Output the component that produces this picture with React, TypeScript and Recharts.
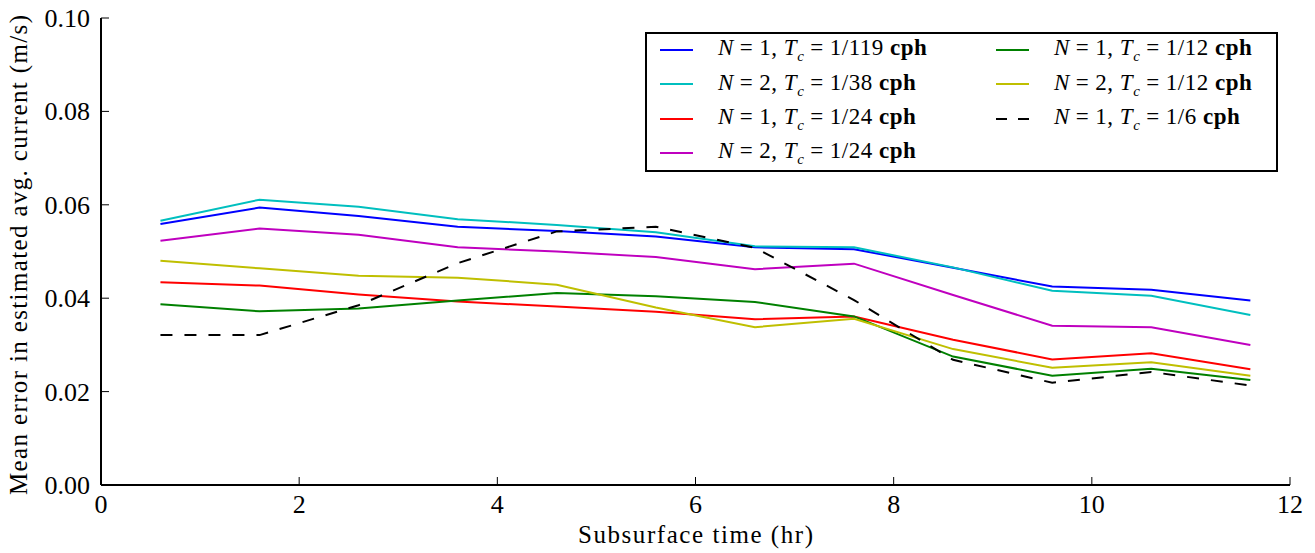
import React from "react";
import { Legend, Line, LineChart, XAxis, YAxis } from "recharts";

// subsurface time (hr) at the centre of each bin
const hours = [0.6, 1.6, 2.6, 3.6, 4.6, 5.6, 6.6, 7.6, 8.6, 9.6, 10.6, 11.6];

// mean error (m/s) per configuration
const n1Tc119 = [0.0559, 0.0594, 0.0576, 0.0553, 0.0544, 0.0532, 0.0509, 0.0505, 0.0465, 0.0425, 0.0418, 0.0395];
const n2Tc38 = [0.0566, 0.0611, 0.0596, 0.0569, 0.0557, 0.0541, 0.0511, 0.0509, 0.0466, 0.0416, 0.0405, 0.0364];
const n1Tc24 = [0.0434, 0.0427, 0.0408, 0.0393, 0.0382, 0.0371, 0.0355, 0.0361, 0.0311, 0.0269, 0.0282, 0.0248];
const n2Tc24 = [0.0523, 0.0549, 0.0536, 0.0509, 0.05, 0.0488, 0.0462, 0.0474, 0.0407, 0.0341, 0.0338, 0.03];
const n1Tc12 = [0.0387, 0.0372, 0.0378, 0.0395, 0.0411, 0.0404, 0.0392, 0.0361, 0.0275, 0.0234, 0.0249, 0.0225];
const n2Tc12 = [0.048, 0.0464, 0.0448, 0.0444, 0.0429, 0.038, 0.0338, 0.0356, 0.0291, 0.0251, 0.0263, 0.0234];
const n1Tc6 = [0.0321, 0.0321, 0.0385, 0.0475, 0.0543, 0.0553, 0.0508, 0.0396, 0.0268, 0.0219, 0.0242, 0.0213];

const xTicks = [0, 2, 4, 6, 8, 10, 12];
const yTicks = [0, 0.02, 0.04, 0.06, 0.08, 0.1];

const series = [
  { key: "n1Tc119", values: n1Tc119, n: "1", tc: "1/119", color: "#0000ff", dash: undefined },
  { key: "n2Tc38", values: n2Tc38, n: "2", tc: "1/38", color: "#00bfbf", dash: undefined },
  { key: "n1Tc24", values: n1Tc24, n: "1", tc: "1/24", color: "#ff0000", dash: undefined },
  { key: "n2Tc24", values: n2Tc24, n: "2", tc: "1/24", color: "#bf00bf", dash: undefined },
  { key: "n1Tc12", values: n1Tc12, n: "1", tc: "1/12", color: "#008000", dash: undefined },
  { key: "n2Tc12", values: n2Tc12, n: "2", tc: "1/12", color: "#bfbf00", dash: undefined },
  { key: "n1Tc6", values: n1Tc6, n: "1", tc: "1/6", color: "#000000", dash: "12 12" },
];

const rows = hours.map((hour, i) => {
  const row: Record<string, number> = { hour };
  series.forEach((s) => {
    row[s.key] = s.values[i];
  });
  return row;
});

const font = "'Liberation Serif', 'Times New Roman', serif";
const TICK = 8;

const BottomTick = ({ x, y, payload }: any) => (
  <g>
    <line x1={x} y1={y} x2={x} y2={y - TICK} stroke="#000" strokeWidth={1} />
    <text x={x} y={y + 28} textAnchor="middle" style={{ fontFamily: font, fontSize: 26 }} fill="#000">
      {payload.value}
    </text>
  </g>
);

const TopTick = ({ x, y }: any) => (
  <line x1={x} y1={y} x2={x} y2={y + TICK} stroke="#000" strokeWidth={1} />
);

const LeftTick = ({ x, y, payload }: any) => (
  <g>
    <line x1={x} y1={y} x2={x + TICK} y2={y} stroke="#000" strokeWidth={1} />
    <text x={x - 11} y={y + 9} textAnchor="end" style={{ fontFamily: font, fontSize: 26 }} fill="#000">
      {Number(payload.value).toFixed(2)}
    </text>
  </g>
);

const RightTick = ({ x, y }: any) => (
  <line x1={x} y1={y} x2={x - TICK} y2={y} stroke="#000" strokeWidth={1} />
);

const eq = { margin: "0 6px" };

const LegendBox = () => (
  <div
    style={{
      width: 633,
      height: 140,
      border: "2px solid #000",
      boxSizing: "border-box",
      background: "#fff",
      position: "relative",
      fontFamily: font,
      fontSize: 23,
      letterSpacing: 0.5,
      color: "#000",
    }}
  >
    {series.map((s, i) => {
      const col = i < 4 ? 0 : 1;
      const row = i < 4 ? i : i - 4;
      const left = col === 0 ? 13 : 349;
      const centre = 16 + row * 34.3;
      return (
        <div
          key={s.key}
          style={{
            position: "absolute",
            left,
            top: centre - 15,
            height: 30,
            display: "flex",
            alignItems: "center",
            whiteSpace: "nowrap",
          }}
        >
          <svg width={33} height={4} style={{ marginRight: 25 }}>
            <line x1={0} y1={2} x2={33} y2={2} stroke={s.color} strokeWidth={2} strokeDasharray={s.dash ? "11 11" : undefined} />
          </svg>
          <span>
            <i>N</i>
            <span style={eq}>=</span>
            {s.n}, <i>T</i>
            <sub style={{ fontSize: 15 }}>
              <i>c</i>
            </sub>
            <span style={eq}>=</span>
            {s.tc} <b>cph</b>
          </span>
        </div>
      );
    })}
  </div>
);

export default function App() {
  return (
    <div style={{ position: "absolute", left: 0, top: 0, width: 1315, height: 553, background: "#fff" }}>
      <LineChart width={1315} height={553} data={rows} margin={{ top: 18, right: 25, bottom: 0, left: 0 }}>
        <XAxis
          dataKey="hour"
          type="number"
          domain={[0, 12]}
          ticks={xTicks}
          height={68}
          tickSize={0}
          tickMargin={0}
          axisLine={{ stroke: "#000", strokeWidth: 2 }}
          tick={<BottomTick />}
          label={{
            content: () => (
              <text
                x={695.5}
                y={543}
                textAnchor="middle"
                textLength={235}
                lengthAdjust="spacing"
                style={{ fontFamily: font, fontSize: 25 }}
                fill="#000"
              >
                Subsurface time (hr)
              </text>
            ),
          }}
        />
        <XAxis
          xAxisId="top"
          orientation="top"
          dataKey="hour"
          type="number"
          domain={[0, 12]}
          ticks={xTicks}
          height={0}
          tickSize={0}
          tickMargin={0}
          axisLine={{ stroke: "#000", strokeWidth: 2 }}
          tick={<TopTick />}
        />
        <YAxis
          type="number"
          domain={[0, 0.1]}
          ticks={yTicks}
          width={101}
          tickSize={0}
          tickMargin={0}
          axisLine={{ stroke: "#000", strokeWidth: 2 }}
          tick={<LeftTick />}
          label={{
            content: () => (
              <text
                x={27}
                y={255}
                transform="rotate(-90 27 255)"
                textAnchor="middle"
                textLength={480}
                lengthAdjust="spacing"
                style={{ fontFamily: font, fontSize: 25 }}
                fill="#000"
              >
                Mean error in estimated avg. current (m/s)
              </text>
            ),
          }}
        />
        <YAxis
          yAxisId="right"
          orientation="right"
          type="number"
          domain={[0, 0.1]}
          ticks={yTicks}
          width={0}
          tickSize={0}
          tickMargin={0}
          axisLine={{ stroke: "#000", strokeWidth: 2 }}
          tick={<RightTick />}
        />
        {series.map((s) => (
          <Line
            key={s.key}
            dataKey={s.key}
            stroke={s.color}
            strokeWidth={2}
            strokeDasharray={s.dash}
            dot={false}
            activeDot={false}
            isAnimationActive={false}
          />
        ))}
        <Legend
          layout="vertical"
          align="center"
          verticalAlign="middle"
          wrapperStyle={{ left: 645, top: 32, width: 633, height: 140 }}
          content={() => <LegendBox />}
        />
      </LineChart>
    </div>
  );
}
